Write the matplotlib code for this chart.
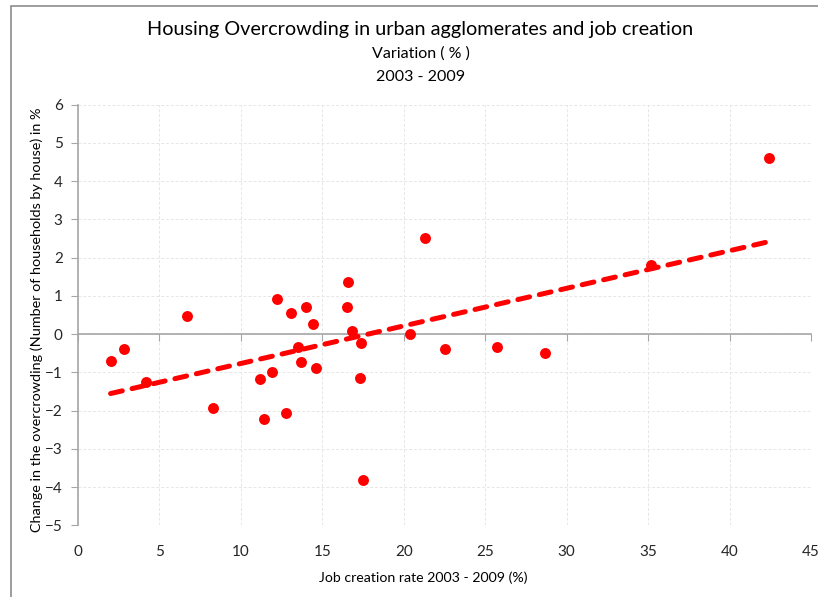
import numpy as np
import matplotlib.pyplot as plt
from matplotlib.patches import Rectangle

# job creation rate 2003-2009 (%) vs change in overcrowding (%)
job_rate = [2.0, 2.8, 4.2, 6.7, 8.3, 11.2, 11.4, 11.9, 12.2, 12.8, 13.1, 13.5,
            13.7, 14.0, 14.4, 14.6, 16.5, 16.6, 16.8, 17.3, 17.4, 17.5, 21.3,
            20.4, 22.5, 25.7, 28.7, 35.2, 42.4]
overcrowd = [-0.69, -0.40, -1.26, 0.47, -1.92, -1.17, -2.21, -1.00, 0.91, -2.05,
             0.56, -0.34, -0.72, 0.70, 0.27, -0.89, 0.70, 1.36, 0.09, -1.15,
             -0.22, -3.82, 2.52, 0.01, -0.38, -0.34, -0.49, 1.81, 4.60]

x_ticks = [0, 5, 10, 15, 20, 25, 30, 35, 40, 45]
y_ticks = [-5, -4, -3, -2, -1, 0, 1, 2, 3, 4, 5, 6]

plt.rcParams['font.family'] = ['Lato', 'DejaVu Sans']

fig = plt.figure(figsize=(8.18, 5.97), dpi=100)
ax = fig.add_axes([78 / 818, 1 - 525.3 / 597, (811 - 78) / 818, (525.3 - 104.7) / 597])

# outer chart border (top and left visible)
fig.patches.append(Rectangle((10.5 / 818, -0.1), 1.2, 1.1 - 6 / 597,
                             transform=fig.transFigure, fill=False,
                             edgecolor='#8c8c8c', linewidth=1.2))

ax.scatter(job_rate, overcrowd, s=62, color='#ff0000', zorder=3, linewidths=0)

xs = np.array(job_rate)
coef = np.polyfit(xs, overcrowd, 1)
xl = np.array([xs.min(), xs.max()])
ax.plot(xl, np.polyval(coef, xl), color='#ff0000', linewidth=3.6,
        dashes=(2.4, 2.0), dash_capstyle='round', zorder=4)

ax.set_xlim(0, 45)
ax.set_ylim(-5, 6)
ax.set_xticks(x_ticks)
ax.set_yticks(y_ticks)
ax.grid(True, color='#e6e6e6', linestyle='--', linewidth=0.7, dashes=(3, 2))
ax.set_axisbelow(True)

for s in ['top', 'right']:
    ax.spines[s].set_visible(False)
ax.spines['left'].set_color('#a6a6a6')
ax.spines['left'].set_linewidth(1.2)
ax.spines['bottom'].set_position(('data', 0))
ax.spines['bottom'].set_color('#a6a6a6')
ax.spines['bottom'].set_linewidth(1.2)
ax.tick_params(axis='x', direction='out', length=5, color='#a6a6a6', labelbottom=False)
ax.tick_params(axis='y', direction='out', length=5, color='#a6a6a6', labelsize=11,
               labelcolor='#262626', pad=6)

sec = ax.secondary_xaxis(0)
sec.set_xticks(x_ticks)
sec.spines['bottom'].set_visible(False)
sec.tick_params(length=0, pad=14, labelsize=11, labelcolor='#262626')

fig.text(0.514, 1 - 29 / 597, 'Housing Overcrowding in urban agglomerates and job creation',
         ha='center', va='center', fontsize=14.3)
fig.text(0.514, 1 - 54 / 597, 'Variation ( % )', ha='center', va='center', fontsize=11.5)
fig.text(0.514, 1 - 77 / 597, '2003 - 2009', ha='center', va='center', fontsize=11.5)

fig.text(423 / 818, 1 - 578 / 597, 'Job creation rate 2003 - 2009 (%)',
         ha='center', va='center', fontsize=10.2)
fig.text(37 / 818, 1 - 320 / 597, 'Change in the overcrowding (Number of households by house) in %',
         ha='center', va='center', rotation=90, fontsize=10.4)

fig.savefig('out.png', dpi=100)
